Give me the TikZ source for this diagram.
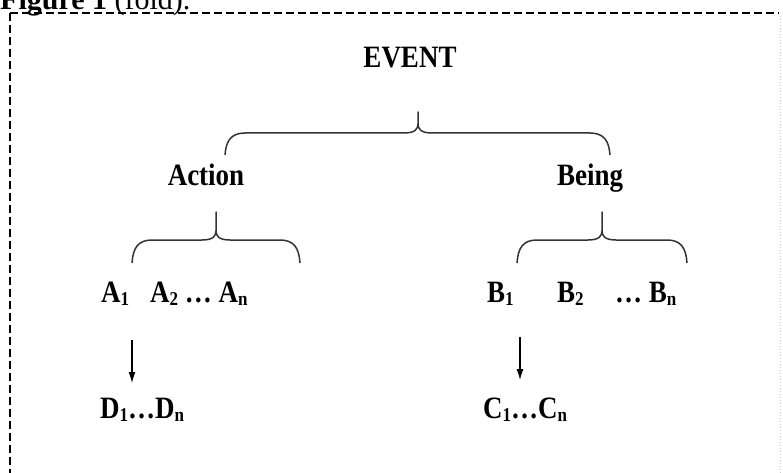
\documentclass[tikz,border=0pt]{standalone}
\usepackage{fontspec}
\usepackage{graphicx}
\setmainfont{Liberation Serif}
\usetikzlibrary{arrows.meta}
\newcommand\sbx[1]{\raisebox{-3pt}{\fontsize{17}{17}\selectfont #1}}
\newcommand\tall[1]{\scalebox{1}[1.15]{#1}}
% #1 left x, #2 right x, #3 centre x, #4 end y, #5 line y, #6 tip y
\newcommand\bracedraw[6]{%
  \draw[bracestyle] (#1,#4) .. controls (#1+1,#5-8) and (#1+6,#5) .. (#1+20,#5)
    -- (#3-14,#5) .. controls (#3-3,#5) and (#3,#5+4) .. (#3,#5+9) -- (#3,#6)
    -- (#3,#5+9) .. controls (#3,#5+4) and (#3+3,#5) .. (#3+14,#5)
    -- (#2-20,#5) .. controls (#2-6,#5) and (#2-1,#5-8) .. (#2,#4);}
\begin{document}
\begin{tikzpicture}[x=1pt,y=1pt,
  lbl/.style={font=\fontsize{27}{30}\selectfont\bfseries, inner sep=0pt, text=black},
  bracestyle/.style={draw=black!80, line width=1.5pt, line join=round},
  arr/.style={draw=black, line width=1.2pt, -{Latex[length=11pt,width=7pt]}},
  frame/.style={draw=black, line width=1.8pt, dash pattern=on 8pt off 4pt}]
\useasboundingbox (0,0) rectangle (783,-473);
\clip (0,0) rectangle (783,-473);
\fill[white] (0,0) rectangle (783,-473);
% caption (cut off at top, as in the reference)
\node[anchor=base west, inner sep=0pt, font=\fontsize{30}{32}\selectfont] (cap) at (0,-10) {\textbf{Figure 1} (fold).};
% frame
\draw[frame] (10,-13) -- (779,-13);
\draw[frame] (10,-13) -- (10,-473);
\draw[black!20, line width=1pt, dotted] (780,-16) -- (780,-473);
% labels
\node[lbl, anchor=base] (event) at (410,-68) {\tall{EVENT}};
\node[lbl, anchor=base] (action) at (206,-185) {\tall{Action}};
\node[lbl, anchor=base] (being) at (590,-185) {\tall{Being}};
\node[lbl, anchor=base west] (a1) at (101,-302) {\tall{A\sbx{1}}};
\node[lbl, anchor=base west] (a2) at (150,-302) {\tall{A\sbx{2} … A\sbx{n}}};
\node[lbl, anchor=base west] (b1) at (487,-302) {\tall{B\sbx{1}}};
\node[lbl, anchor=base west] (b2) at (557,-302) {\tall{B\sbx{2}}};
\node[lbl, anchor=base west] (bn) at (615,-302) {\tall{… B\sbx{n}}};
\node[lbl, anchor=base west] (d) at (100,-418) {\tall{D\sbx{1}…D\sbx{n}}};
\node[lbl, anchor=base west] (c) at (483,-418) {\tall{C\sbx{1}…C\sbx{n}}};
% braces
\bracedraw{225}{610}{418}{-155}{-133}{-112}
\bracedraw{132}{300}{216}{-263}{-240}{-212}
\bracedraw{517}{687}{602}{-263}{-240}{-212}
% arrows
\coordinate (la) at (132,-340);
\coordinate (lb) at (132,-383);
\coordinate (ra) at (520,-337);
\coordinate (rb) at (520,-380);
\draw[arr] (la) -- (lb);
\draw[arr] (ra) -- (rb);
\end{tikzpicture}
\end{document}
